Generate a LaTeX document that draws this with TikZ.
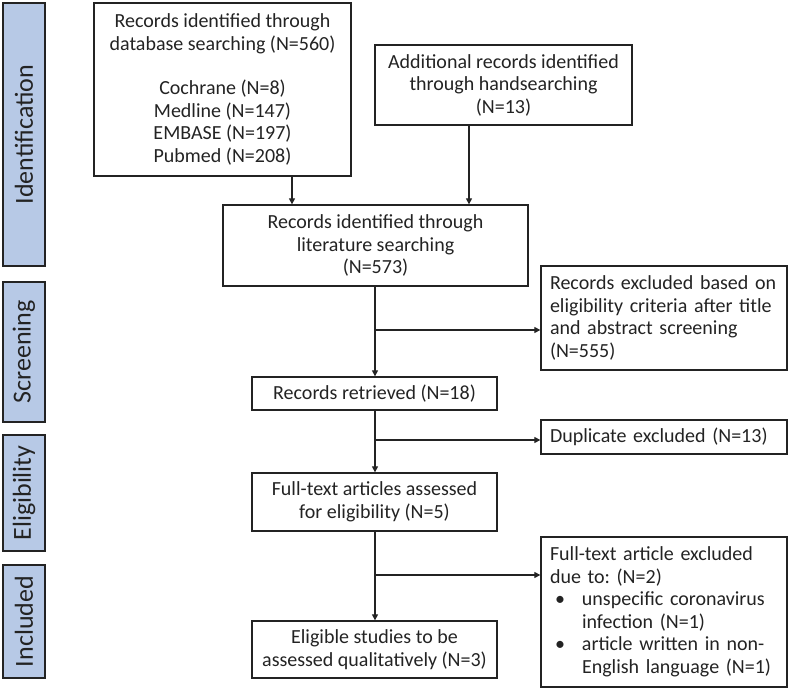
\documentclass[tikz,border=0pt]{standalone}
\usepackage{fontspec}
\setmainfont{Carlito}
\usetikzlibrary{arrows.meta}
\definecolor{sidefill}{RGB}{183,201,230}
\definecolor{ink}{RGB}{35,35,35}
\frenchspacing
\tikzset{
  box/.style={draw=ink, line width=1.3pt, text=ink, font=\fontsize{20}{22.5}\selectfont, align=center, inner sep=0pt},
  lbox/.style={box, align=left, text width=#1},
  side/.style={draw=ink, line width=1.3pt, fill=sidefill, text=ink, font=\fontsize{26}{30}\selectfont, inner sep=0pt, rotate=90},
  arr/.style={draw=ink, line width=1.2pt, -{Triangle[length=6pt,width=6pt]}},
  ln/.style={draw=ink, line width=1.2pt}
}
\newcommand{\bul}{\makebox[32pt][l]{\hspace{5pt}\textbullet}}
\begin{document}
\begin{tikzpicture}[x=1pt,y=-1pt]
\useasboundingbox (0,0) rectangle (790,690);
% side labels
\node[side, minimum width=263pt, minimum height=42pt] (sid) at (24,134.5) {Identification};
\node[side, minimum width=140pt, minimum height=42pt] (ssc) at (24,352) {Screening};
\node[side, minimum width=116pt, minimum height=42pt] (sel) at (24,493) {Eligibility};
\node[side, minimum width=113pt, minimum height=42pt] (sin) at (24,621.5) {Included};
% boxes
\node[box, minimum width=257pt, minimum height=173pt] (db) at (222.5,89.5) {Records identified through\\database searching (N=560)\\[22pt]Cochrane (N=8)\\Medline (N=147)\\EMBASE (N=197)\\Pubmed (N=208)};
\node[box, minimum width=257pt, minimum height=80pt] (hand) at (503.5,85) {Additional records identified\\through handsearching\\(N=13)};
\node[box, minimum width=305pt, minimum height=81pt] (lit) at (375.5,245.5) {Records identified through\\literature searching\\(N=573)};
\node[lbox=228pt, minimum width=246pt, minimum height=104pt] (exa) at (664,318) {Records excluded based on\\eligibility criteria after title\\and abstract screening\\(N=555)};
\node[box, minimum width=245pt, minimum height=33pt] (ret) at (374.5,393.5) {Records retrieved (N=18)};
\node[lbox=228pt, minimum width=246pt, minimum height=34pt] (dup) at (664,437) {Duplicate excluded (N=13)};
\node[box, minimum width=245pt, minimum height=58pt] (full) at (374.5,502) {Full-text articles assessed\\for eligibility (N=5)};
\node[lbox=228pt, minimum width=246pt, minimum height=150pt] (exc) at (664,612) {Full-text article excluded\\due to: (N=2)\\\bul unspecific coronavirus\\\hspace*{32pt}infection (N=1)\\\bul article written in non-\\\hspace*{32pt}English language (N=1)};
\node[box, minimum width=245pt, minimum height=57pt] (elig) at (374.5,649.5) {Eligible studies to be\\assessed qualitatively (N=3)};
% connectors
\draw[arr] (db.south -| 292,0) -- (lit.north -| 292,0);
\draw[arr] (hand.south -| 469,0) -- (lit.north -| 469,0);
\draw[arr] (lit.south -| 375,0) -- (ret.north -| 375,0);
\coordinate (b1) at (375,330);
\draw[arr] (b1) -- (exa.west |- b1);
\draw[arr] (ret.south -| 375,0) -- (full.north -| 375,0);
\coordinate (b2) at (375,440);
\draw[arr] (b2) -- (dup.west |- b2);
\draw[arr] (full.south -| 375,0) -- (elig.north -| 375,0);
\coordinate (b3) at (375,575);
\draw[arr] (b3) -- (exc.west |- b3);
\end{tikzpicture}
\end{document}
